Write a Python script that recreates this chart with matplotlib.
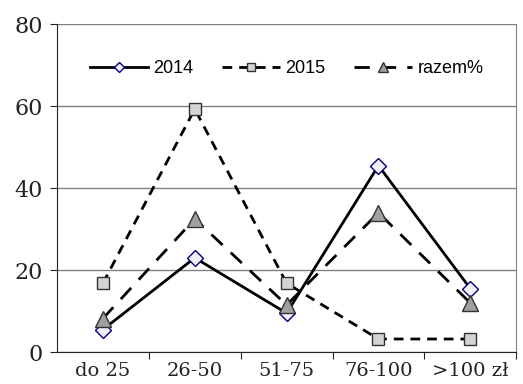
import matplotlib.pyplot as plt

categories = ['do 25', '26-50', '51-75', '76-100', '>100 zł']
y2014 = [5.5, 23, 9.5, 45.5, 15.5]
y2015 = [16.8, 59.3, 16.8, 3.2, 3.2]
razem = [8.2, 32.5, 11.5, 34, 12]

fig = plt.figure(figsize=(5.23, 3.84), dpi=100)
ax = fig.add_axes([0.109, 0.083, 0.878, 0.854])

x = range(len(categories))
ax.plot(x, y2014, color='black', lw=2, marker='D', ms=8, mfc='#f0f0f8', mec='#000080',
        mew=1, label='2014', zorder=3)
ax.plot(x, y2015, color='black', lw=2, ls=(0, (3.5, 2.5)), marker='s', ms=9, mfc='#d4d4d4',
        mec='#333333', mew=1, label='2015', zorder=3)
ax.plot(x, razem, color='black', lw=2, ls=(0, (5.5, 4)), marker='^', ms=11, mfc='#a0a0a0',
        mec='#333333', mew=1, label='razem%', zorder=3)

ax.set_xlim(-0.5, len(categories) - 0.5)
ax.set_ylim(0, 80)
ax.set_yticks([0, 20, 40, 60, 80])
ax.yaxis.grid(True, color='#808080', lw=1)
ax.set_axisbelow(True)
ax.set_xticks([i + 0.5 for i in range(len(categories))])
ax.set_xticklabels([])
ax.set_xticks(list(x), minor=True)
ax.set_xticklabels(categories, minor=True)
ax.tick_params(axis='x', which='minor', length=0, labelsize=14, pad=7)
ax.tick_params(axis='x', which='major', length=5, direction='out', color='#222222')
ax.tick_params(axis='y', labelsize=16, length=5, color='#222222', pad=5)
for lab in ax.get_xticklabels(minor=True) + ax.get_yticklabels():
    lab.set_family('DejaVu Serif')
    lab.set_color('#222222')
ax.spines['top'].set_visible(False)
ax.spines['right'].set_color('#808080')
for s in ['left', 'bottom']:
    ax.spines[s].set_color('#222222')

ax.legend(loc='upper center', ncol=3, frameon=False, prop={'family': 'Liberation Sans', 'size': 13},
          bbox_to_anchor=(0.5, 0.94), handlelength=3.2, handletextpad=0.3,
          columnspacing=1.6, markerscale=0.6)

fig.savefig('out.png', dpi=100)
